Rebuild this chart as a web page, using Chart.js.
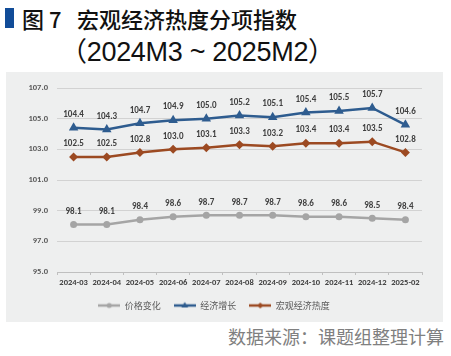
<!DOCTYPE html>
<html><head><meta charset="utf-8">
<script src="https://cdn.jsdelivr.net/npm/chart.js@4"></script>
<style>
html,body{margin:0;padding:0;background:#fff;width:451px;height:356px;overflow:hidden;position:relative;}
.t{position:absolute;white-space:nowrap;font-family:"Noto Sans CJK SC","Noto Sans",sans-serif;color:#111;}
#bar{position:absolute;left:5px;top:8px;width:9px;height:20px;background:#114C98;}
#box{position:absolute;left:6px;top:72px;width:437px;height:250px;background:#EEEFEF;}
</style></head><body>
<div id="bar"></div>
<div class="t" style="left:22px;top:6px;font-size:22px;line-height:24px;font-weight:500;">图 7</div>
<div class="t" style="left:77px;top:6px;font-size:22px;line-height:24px;font-weight:500;">宏观经济热度分项指数</div>
<div class="t" style="left:60px;top:39px;font-size:27px;line-height:27px;font-weight:400;letter-spacing:-0.3px;font-family:'Liberation Sans','Noto Sans CJK SC',sans-serif;">（2024M3 ~ 2025M2）</div>
<div id="box"><canvas id="c" width="437" height="250"></canvas></div>
<div class="t" style="left:228px;top:325px;font-size:18px;line-height:22px;color:#808080;">数据来源：课题组整理计算</div>
<script>
const categories = ["2024-03","2024-04","2024-05","2024-06","2024-07","2024-08","2024-09","2024-10","2024-11","2024-12","2025-02"];
const priceChange = [98.1,98.1,98.4,98.6,98.7,98.7,98.7,98.6,98.6,98.5,98.4];
const econGrowth = [104.4,104.3,104.7,104.9,105.0,105.2,105.1,105.4,105.5,105.7,104.6];
const macroHeat = [102.5,102.5,102.8,103.0,103.1,103.3,103.2,103.4,103.4,103.5,102.8];
const seriesNames = ["价格变化","经济增长","宏观经济热度"];
const yTicks = [95,97,99,101,103,105,107];

const colors = ["#A5A5A5","#2E5C8F","#9C4A22"];
const styles = ["circle","triangle","rectRot"];
const radii = [3.5,5.5,4.5];

function makeIcon(color, style){
  const c=document.createElement('canvas'); c.width=22; c.height=10;
  const g=c.getContext('2d');
  g.strokeStyle=color; g.lineWidth=2.5;
  g.beginPath(); g.moveTo(0,5); g.lineTo(22,5); g.stroke();
  g.fillStyle=color; g.beginPath();
  if(style==='circle'){ g.arc(11,5,2.5,0,Math.PI*2); }
  else if(style==='triangle'){ g.moveTo(11,1.5); g.lineTo(14.5,7); g.lineTo(7.5,7); g.closePath(); }
  else { g.moveTo(11,2); g.lineTo(14,5); g.lineTo(11,8); g.lineTo(8,5); g.closePath(); }
  g.fill();
  return c;
}
const icons = colors.map((c,i)=>makeIcon(c,styles[i]));

const labelPlugin = {
  id:'vlabels',
  afterDatasetsDraw(chart){
    const ctx=chart.ctx; ctx.save();
    ctx.font='bold 9px Carlito, "Liberation Sans", Arial, sans-serif';
    ctx.fillStyle='#404040'; ctx.textAlign='center'; ctx.textBaseline='middle';
    chart.data.datasets.forEach((ds,di)=>{
      const meta=chart.getDatasetMeta(di);
      meta.data.forEach((pt,i)=>{ ctx.fillText(ds.data[i].toFixed(1), pt.x, pt.y-13); });
    });
    ctx.restore();
  }
};

const dataSets=[priceChange,econGrowth,macroHeat];
new Chart(document.getElementById('c'),{
  type:'line',
  data:{labels:categories,datasets:dataSets.map((d,i)=>({
    label:seriesNames[i],data:d,borderColor:colors[i],backgroundColor:colors[i],
    borderWidth:2.5,pointStyle:styles[i],pointRadius:radii[i],pointHoverRadius:radii[i],
    pointBorderWidth:0,tension:0,fill:false
  }))},
  options:{
    responsive:false,animation:false,
    layout:{padding:{left:0,right:21,top:16,bottom:2}},
    plugins:{
      tooltip:{enabled:false},
      legend:{position:'bottom',
        labels:{usePointStyle:true,pointStyleWidth:22,boxHeight:9,padding:13,color:'#595959',
          font:{size:9,family:'"Noto Sans CJK SC", sans-serif'},
          generateLabels(chart){
            const items=Chart.defaults.plugins.legend.labels.generateLabels(chart);
            items.forEach((it,i)=>{it.pointStyle=icons[i];});
            return items;
          }}
      }
    },
    scales:{
      x:{offset:true,
        grid:{display:true,drawOnChartArea:false,drawTicks:true,tickLength:3,color:'#BFBFBF',offset:true},
        border:{display:true,color:'#BFBFBF',width:1},
        ticks:{maxRotation:0,autoSkip:false,padding:3,color:'#404040',
          font:{size:8.5,weight:'bold',family:'Carlito, "Liberation Sans", Arial, sans-serif'}},
        afterFit(s){s.height=16;}
      },
      y:{min:95,max:107,
        afterBuildTicks(s){s.ticks=yTicks.map(v=>({value:v}));},
        grid:{color:'#D2D2D2',lineWidth:1,drawTicks:false},
        border:{display:false},
        ticks:{padding:9,color:'#595959',callback:v=>Number(v).toFixed(1),
          font:{size:8.5,weight:'bold',family:'Carlito, "Liberation Sans", Arial, sans-serif'}},
        afterFit(s){s.width=51;}
      }
    }
  },
  plugins:[labelPlugin]
});
</script>
</body></html>
